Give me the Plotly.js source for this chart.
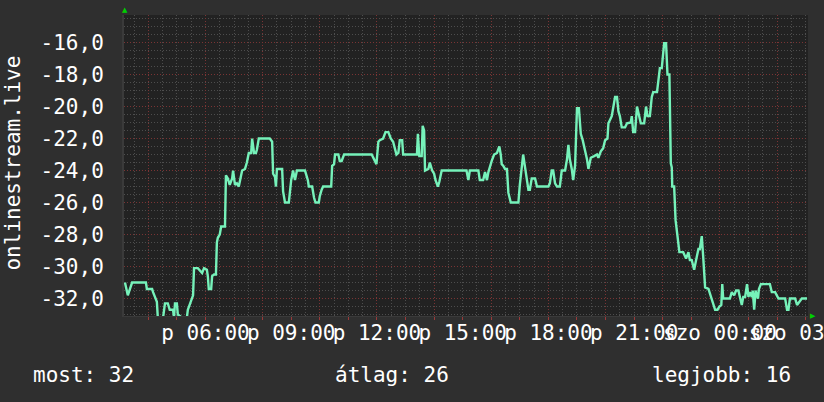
<!DOCTYPE html>
<html>
<head>
<meta charset="utf-8">
<script src="https://cdn.plot.ly/plotly-3.0.1.min.js"></script>
<style>html,body{margin:0;padding:0;background:#2f2f2f;}#chart{width:824px;height:402px;}</style>
</head>
<body>
<div id="chart"></div>
<script>
// Friday (p) 2024-03-01 -> Saturday (szo) 2024-03-02
const startDay = '2024-03-01';
const nextDay = '2024-03-02';

const times = [
'03:11','03:17','03:26','03:55','03:57','04:08','04:10','04:18','04:20','04:31',
'04:35','04:41','04:45','04:52','04:54','04:56','05:00','05:02','05:11','05:21',
'05:23','05:32','05:34','05:36','05:44','05:53','05:57','06:03','06:05','06:07',
'06:12','06:14','06:18','06:22','06:24','06:26','06:30','06:33','06:41','06:43',
'06:47','06:51','06:56','06:58','07:02','07:06','07:10','07:17','07:23','07:27',
'07:29','07:31','07:36','07:38','07:42','07:46','07:48','07:52','08:15','08:20',
'08:22','08:26','08:28','08:30','08:41','08:43','08:47','08:55','09:00','09:04',
'09:08','09:12','09:29','09:35','09:37','09:44','09:48','09:51','09:58','10:00',
'10:04','10:07','10:24','10:26','10:30','10:32','10:39','10:42','10:46','10:51',
'11:49','11:56','11:59','12:03','12:06','12:13','12:18','12:24','12:29','12:34',
'12:38','12:41','12:45','12:48','12:53','12:55','13:24','13:26','13:29','13:34',
'13:36','13:39','13:41','13:48','13:51','13:56','14:00','14:03','14:08','14:11',
'14:16','15:08','15:12','15:15','15:33','15:36','15:43','15:47','15:51','15:54',
'16:01','16:06','16:12','16:17','16:20','16:22','16:25','16:29','16:33','16:36',
'16:41','16:57','17:00','17:04','17:07','17:11','17:15','17:18','17:21','17:25',
'17:32','17:36','18:00','18:03','18:07','18:10','18:14','18:18','18:24','18:28',
'18:35','18:39','18:42','18:45','18:49','18:52','18:56','19:00','19:04','19:08',
'19:12','19:17','19:21','19:24','19:29','19:36','19:42','19:45','19:50','19:55',
'19:59','20:04','20:06','20:13','20:16','20:20','20:24','20:27','20:30','20:34',
'20:41','20:45','20:53','20:55','20:58','21:02','21:06','21:09','21:14','21:21',
'21:25','21:28','21:33','21:37','21:40','21:48','21:51','21:54','21:58','22:01',
'22:03','22:07','22:10','22:14','22:17','22:19','22:20','22:24','22:27','22:31',
'22:35','22:43','22:49','22:54','22:57','23:01','23:06','23:10','23:15','23:18',
'23:22','23:25','23:29','23:36','23:41','23:45','23:50','23:55','23:59','00:03',
'00:05','00:07','00:21','00:25','00:30','00:34','00:39','00:42','00:46','00:49',
'00:53','00:57','01:00','01:03','01:07','01:09','01:12','01:15','01:20','01:22',
'01:26','01:45','01:49','01:56','02:03','02:17','02:21','02:24','02:27','02:38',
'02:42','02:47','02:52','03:03'
];

const values = [
-31.0,-31.8,-31.0,-31.0,-31.4,-31.4,-31.6,-32.2,-33.2,-33.2,
-32.3,-32.3,-32.7,-32.7,-33.2,-32.3,-32.3,-33.0,-33.2,-33.2,
-32.7,-31.9,-31.8,-30.1,-30.1,-30.4,-30.1,-30.2,-30.6,-31.4,
-31.4,-30.6,-30.5,-30.5,-28.5,-28.2,-28.0,-27.5,-27.5,-24.3,
-24.5,-24.9,-24.5,-24.0,-24.9,-24.8,-25.0,-24.0,-23.9,-23.5,
-23.2,-22.9,-22.9,-22.0,-22.9,-22.9,-22.7,-22.0,-22.0,-22.2,
-24.2,-24.4,-25.0,-23.9,-23.9,-25.3,-26.0,-26.0,-24.6,-24.0,
-24.6,-24.0,-24.0,-24.6,-25.0,-25.0,-25.7,-26.0,-26.0,-25.6,
-25.2,-25.0,-25.0,-23.7,-23.6,-23.0,-23.0,-23.4,-23.4,-23.0,
-23.0,-23.5,-23.6,-22.2,-22.1,-22.0,-21.6,-21.6,-22.0,-22.2,
-22.7,-23.0,-22.9,-22.1,-22.1,-23.0,-23.0,-21.7,-23.1,-23.1,
-21.2,-21.5,-24.0,-23.9,-23.5,-24.0,-24.2,-24.6,-25.0,-24.7,
-24.0,-24.0,-24.6,-24.0,-24.0,-24.6,-24.6,-24.1,-24.6,-24.1,
-23.4,-23.0,-22.9,-22.5,-23.0,-23.6,-23.7,-23.9,-23.9,-25.4,
-26.0,-26.0,-24.9,-24.0,-23.0,-23.8,-24.6,-25.2,-25.2,-24.5,
-24.5,-25.0,-25.0,-24.8,-24.0,-24.0,-24.8,-25.0,-25.0,-24.0,
-24.0,-23.3,-22.4,-23.3,-23.9,-24.6,-23.7,-20.1,-20.1,-21.7,
-22.1,-22.7,-23.3,-23.9,-23.2,-23.1,-23.0,-23.2,-22.8,-22.6,
-22.1,-22.0,-21.05,-20.6,-20.1,-19.4,-19.4,-20.3,-20.6,-21.3,
-21.3,-21.05,-21.0,-20.6,-21.6,-21.6,-20.0,-20.4,-21.05,-21.05,
-20.0,-20.6,-20.6,-19.4,-19.1,-19.1,-18.4,-17.6,-17.6,-16.75,
-16.05,-16.05,-18.0,-18.0,-23.55,-23.8,-25.0,-25.0,-27.1,-28.1,
-29.1,-29.1,-29.5,-29.1,-29.6,-29.6,-30.2,-29.6,-28.9,-28.9,
-28.1,-29.4,-31.3,-31.4,-31.9,-32.2,-32.7,-32.7,-32.5,-32.4,
-31.1,-32.0,-32.0,-31.6,-31.8,-31.5,-31.5,-31.9,-32.4,-31.9,
-31.9,-31.1,-31.9,-31.6,-31.9,-31.5,-32.7,-31.5,-32.0,-31.4,
-31.1,-31.1,-31.6,-31.6,-32.0,-32.0,-32.7,-32.7,-32.0,-32.0,
-32.4,-32.2,-32.0,-32.0
];

const xLabelTimes = ['2024-03-01 06:00','2024-03-01 09:00','2024-03-01 12:00','2024-03-01 15:00',
                     '2024-03-01 18:00','2024-03-01 21:00','2024-03-02 00:00','2024-03-02 03:00'];
const xLabelText = ['p 06:00','p 09:00','p 12:00','p 15:00','p 18:00','p 21:00','szo 00:00','szo 03:00'];

const yTickVals = [-32,-30,-28,-26,-24,-22,-20,-18,-16];
const yTickText = ['-32,0','-30,0','-28,0','-26,0','-24,0','-22,0','-20,0','-18,0','-16,0'];

const yTitle = 'onlinestream.live';
const statLabels = ['most', 'átlag', 'legjobb'];
const statValues = [32, 26, 16];

const xRange = ['2024-03-01 03:09', '2024-03-02 03:05'];
const yRange = [-33.09, -14.28];

// build full timestamps with day rollover
let day = startDay, prevH = -1;
const xs = times.map(t => {
  const h = parseInt(t.slice(0,2), 10);
  if (h < prevH) day = nextDay;
  prevH = h;
  return day + ' ' + t;
});

const lineColor = '#76f2ba';
const majorGrid = '#7a3434';
const minorGrid = '#4d4d4d';
const dots = '1px,2px';
const fontFam = 'DejaVu Sans Mono, monospace';

const traces = [
  {x: xs, y: values, type: 'scatter', mode: 'lines', xaxis: 'x', yaxis: 'y',
   line: {color: lineColor, width: 2.4}, hoverinfo: 'skip'},
  {x: xs, y: values, type: 'scatter', mode: 'lines', xaxis: 'x2', yaxis: 'y',
   line: {color: 'rgba(0,0,0,0)', width: 1}, opacity: 0, hoverinfo: 'skip'},
  {x: xs, y: values, type: 'scatter', mode: 'lines', xaxis: 'x3', yaxis: 'y',
   line: {color: 'rgba(0,0,0,0)', width: 1}, opacity: 0, hoverinfo: 'skip'}
];

const annotations = [
  {text: yTitle, xref: 'paper', yref: 'paper', x: -0.1637, y: 0.5066, textangle: -90,
   showarrow: false, xanchor: 'center', yanchor: 'middle', font: {size: 21, color: '#ffffff', family: fontFam}},
  {text: statLabels[0] + ': ' + statValues[0], xref: 'paper', yref: 'paper', x: -0.136, y: -0.196,
   showarrow: false, xanchor: 'left', yanchor: 'middle', font: {size: 21, color: '#ffffff', family: fontFam}},
  {text: statLabels[1] + ': ' + statValues[1], xref: 'paper', yref: 'paper', x: 0.392, y: -0.196,
   showarrow: false, xanchor: 'center', yanchor: 'middle', font: {size: 21, color: '#ffffff', family: fontFam}},
  {text: statLabels[2] + ': ' + statValues[2], xref: 'paper', yref: 'paper', x: 0.978, y: -0.196,
   showarrow: false, xanchor: 'right', yanchor: 'middle', font: {size: 21, color: '#ffffff', family: fontFam}},
  {text: '▲', xref: 'paper', yref: 'paper', x: 0.0015, y: 1.0166, showarrow: false,
   xanchor: 'center', yanchor: 'middle', font: {size: 7, color: '#00d000', family: 'DejaVu Sans'}},
  {text: '▶', xref: 'paper', yref: 'paper', x: 1.0073, y: 0, showarrow: false,
   xanchor: 'center', yanchor: 'middle', font: {size: 7, color: '#00d000', family: 'DejaVu Sans'}}
];

const layout = {
  width: 824, height: 402,
  margin: {l: 124, r: 16, t: 15, b: 86, pad: 0},
  paper_bgcolor: '#2f2f2f', plot_bgcolor: '#222222',
  font: {family: fontFam, color: '#ffffff', size: 21},
  showlegend: false,
  xaxis: {
    type: 'date', range: xRange, tickmode: 'linear', tick0: '2024-03-01 00:00', dtick: 7200000,
    showgrid: true, gridcolor: majorGrid, griddash: dots, gridwidth: 1,
    showticklabels: false, ticks: '', zeroline: false, showline: true, linecolor: '#3a3a3a', linewidth: 1,
    minor: {tickmode: 'linear', tick0: '2024-03-01 00:00', dtick: 1800000, showgrid: true,
            gridcolor: minorGrid, griddash: dots, gridwidth: 1, ticks: ''}
  },
  xaxis2: {
    type: 'date', overlaying: 'x', anchor: 'y', side: 'bottom', range: xRange,
    tickmode: 'array', tickvals: xLabelTimes, ticktext: xLabelText, tickangle: 0,
    ticklabeloverflow: 'allow',
    showgrid: false, ticks: '', zeroline: false, showline: false,
    tickfont: {size: 21, color: '#ffffff', family: fontFam}, ticklabelstandoff: 2
  },
  xaxis3: {
    type: 'date', overlaying: 'x', anchor: 'y', side: 'bottom', range: xRange,
    tickmode: 'linear', tick0: '2024-03-01 00:00', dtick: 3600000,
    ticks: 'outside', ticklen: 3, tickwidth: 1, tickcolor: '#9a3a3a',
    showticklabels: false, showgrid: false, zeroline: false, showline: false
  },
  yaxis: {
    range: yRange, tickmode: 'array', tickvals: yTickVals, ticktext: yTickText,
    showgrid: true, gridcolor: majorGrid, griddash: dots, gridwidth: 1,
    ticks: '', ticklabelstandoff: 14, zeroline: false, showline: true, linecolor: '#3a3a3a', linewidth: 2,
    tickfont: {size: 21, color: '#ffffff', family: fontFam},
    minor: {tickmode: 'linear', tick0: 0, dtick: 0.5, showgrid: true,
            gridcolor: minorGrid, griddash: dots, gridwidth: 1, ticks: ''}
  },
  annotations: annotations
};

Plotly.newPlot('chart', traces, layout, {staticPlot: true, displayModeBar: false});
</script>
</body>
</html>
